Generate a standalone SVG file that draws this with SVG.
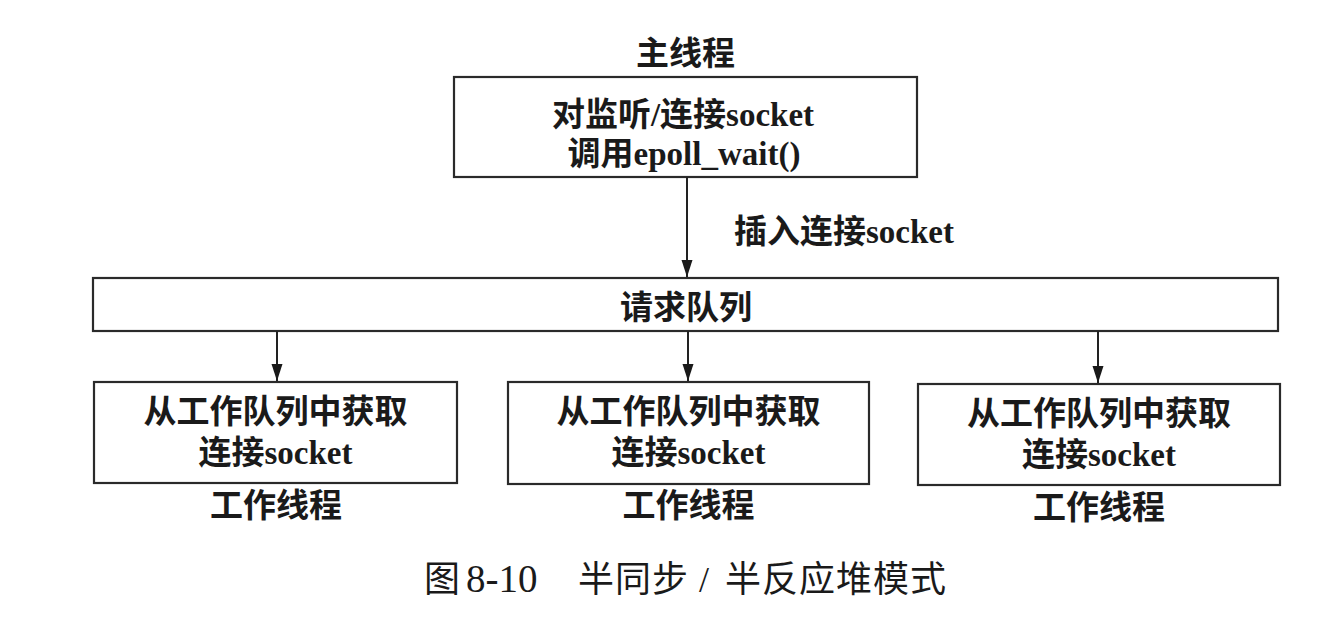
<svg xmlns="http://www.w3.org/2000/svg" width="1331" height="627" viewBox="0 0 1331 627">
<style>
  .box { fill: #ffffff; stroke: #2a2a2a; stroke-width: 2.2; }
  .conn { stroke: #222222; stroke-width: 2; fill: none; }
  .t { font-family: "Liberation Serif", "Noto Sans CJK SC", serif; font-size: 33px; font-weight: bold; fill: #1a1a1a; text-anchor: middle; }
  .lbl { font-family: "Liberation Serif", "Noto Sans CJK SC", serif; font-size: 33px; font-weight: bold; fill: #1a1a1a; }
  .cap { font-family: "Liberation Serif", "Noto Sans CJK SC", serif; font-size: 36px; font-weight: normal; fill: #1a1a1a; }
  .capcjk { letter-spacing: 1px; }
  .capnum { font-size: 39px; }
  .capsp { font-size: 24px; }
</style>
<defs>
  <marker id="arrowDown" markerUnits="userSpaceOnUse" markerWidth="18" markerHeight="12" refX="17" refY="6" orient="auto" viewBox="0 0 18 12">
    <path d="M0,0.5 L17,6 L0,11.5 Z" fill="#1a1a1a"/>
  </marker>
</defs>
<rect width="1331" height="627" fill="#ffffff"/>

<g id="main-thread">
  <text class="t" x="685.5" y="65">主线程</text>
  <rect class="box" x="454" y="77" width="463" height="100"/>
  <text class="t" x="683" y="126">对监听/连接socket</text>
  <text class="t" x="684" y="165">调用epoll_wait()</text>
</g>

<g id="request-queue">
  <rect class="box" x="93" y="278" width="1185" height="53"/>
  <text class="t" x="686" y="319">请求队列</text>
</g>

<g id="worker-1">
  <rect class="box" x="94" y="382" width="363" height="101"/>
  <text class="t" x="275.5" y="423">从工作队列中获取</text>
  <text class="t" x="275.5" y="464">连接socket</text>
  <text class="t" x="276" y="517">工作线程</text>
</g>

<g id="worker-2">
  <rect class="box" x="508" y="382" width="361" height="102"/>
  <text class="t" x="688.5" y="423">从工作队列中获取</text>
  <text class="t" x="688.5" y="464">连接socket</text>
  <text class="t" x="688.5" y="517">工作线程</text>
</g>

<g id="worker-3">
  <rect class="box" x="918" y="384" width="362" height="101"/>
  <text class="t" x="1099" y="425">从工作队列中获取</text>
  <text class="t" x="1099" y="466">连接socket</text>
  <text class="t" x="1099" y="519">工作线程</text>
</g>

<g id="connectors">
  <line class="conn" x1="687" y1="177" x2="687" y2="277" marker-end="url(#arrowDown)"/>
  <line class="conn" x1="277" y1="331" x2="277" y2="381" marker-end="url(#arrowDown)"/>
  <line class="conn" x1="688" y1="331" x2="688" y2="381" marker-end="url(#arrowDown)"/>
  <line class="conn" x1="1098" y1="331" x2="1098" y2="383" marker-end="url(#arrowDown)"/>
  <text class="lbl" x="734" y="243">插入连接socket</text>
</g>

<g id="caption">
  <text class="cap" y="592"><tspan x="424">图</tspan><tspan class="capsp"> </tspan><tspan class="capnum">8-10 </tspan><tspan class="capcjk" x="578">半同步 </tspan><tspan x="699">/ </tspan><tspan class="capcjk" x="725">半反应堆模式</tspan></text>
</g>
</svg>
